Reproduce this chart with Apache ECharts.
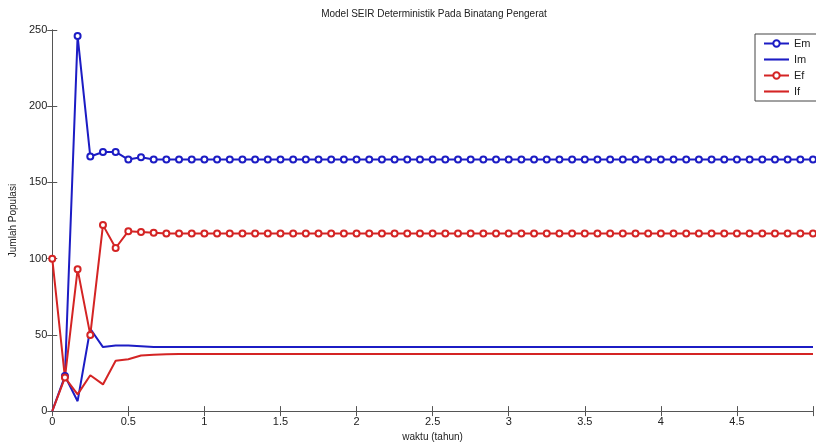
<!DOCTYPE html>
<html>
<head>
<meta charset="utf-8">
<script src="https://cdn.jsdelivr.net/npm/echarts@6/dist/echarts.min.js"></script>
<style>
  html, body { margin: 0; padding: 0; background: #fff; }
  #chart { width: 816px; height: 447px; }
</style>
</head>
<body>
<div id="chart"></div>
<script>
// waktu dalam bulan (0..60), ditampilkan dalam tahun
const months = [
  0, 1, 2, 3, 4, 5, 6, 7, 8, 9, 10, 11, 12, 13, 14, 15, 16, 17, 18, 19, 20,
  21, 22, 23, 24, 25, 26, 27, 28, 29, 30, 31, 32, 33, 34, 35, 36, 37, 38, 39, 40,
  41, 42, 43, 44, 45, 46, 47, 48, 49, 50, 51, 52, 53, 54, 55, 56, 57, 58, 59, 60
];
const Em = [
  null, 23, 246, 167, 170, 170, 165, 166.5, 165, 165, 165, 165, 165, 165, 165, 165, 165, 165, 165, 165, 165,
  165, 165, 165, 165, 165, 165, 165, 165, 165, 165, 165, 165, 165, 165, 165, 165, 165, 165, 165, 165,
  165, 165, 165, 165, 165, 165, 165, 165, 165, 165, 165, 165, 165, 165, 165, 165, 165, 165, 165, 165
];
const Im = [
  0, 23, 6.5, 54, 42, 43, 43, 42.5, 42, 42, 42, 42, 42, 42, 42, 42, 42, 42, 42, 42, 42,
  42, 42, 42, 42, 42, 42, 42, 42, 42, 42, 42, 42, 42, 42, 42, 42, 42, 42, 42, 42,
  42, 42, 42, 42, 42, 42, 42, 42, 42, 42, 42, 42, 42, 42, 42, 42, 42, 42, 42, 42
];
const Ef = [
  100, 22, 93, 50, 122, 107, 118, 117.5, 117, 116.5, 116.5, 116.5, 116.5, 116.5, 116.5, 116.5, 116.5, 116.5, 116.5, 116.5, 116.5,
  116.5, 116.5, 116.5, 116.5, 116.5, 116.5, 116.5, 116.5, 116.5, 116.5, 116.5, 116.5, 116.5, 116.5, 116.5, 116.5, 116.5, 116.5, 116.5, 116.5,
  116.5, 116.5, 116.5, 116.5, 116.5, 116.5, 116.5, 116.5, 116.5, 116.5, 116.5, 116.5, 116.5, 116.5, 116.5, 116.5, 116.5, 116.5, 116.5, 116.5
];
const If = [
  0, 22, 11, 23.5, 17.5, 33, 34, 36.5, 37, 37.3, 37.5, 37.5, 37.5, 37.5, 37.5, 37.5, 37.5, 37.5, 37.5, 37.5, 37.5,
  37.5, 37.5, 37.5, 37.5, 37.5, 37.5, 37.5, 37.5, 37.5, 37.5, 37.5, 37.5, 37.5, 37.5, 37.5, 37.5, 37.5, 37.5, 37.5, 37.5,
  37.5, 37.5, 37.5, 37.5, 37.5, 37.5, 37.5, 37.5, 37.5, 37.5, 37.5, 37.5, 37.5, 37.5, 37.5, 37.5, 37.5, 37.5, 37.5, 37.5
];
const xTicks = [0, 0.5, 1, 1.5, 2, 2.5, 3, 3.5, 4, 4.5];

const blue = "#1c1cc4";
const red = "#d42424";
const axisColor = "#555";
const lineIcon = "path://M0,0 H24 V2 H0 Z";

function pairs(vals) {
  return vals.map((v, i) => [months[i] / 12, v]);
}

let chart = echarts.init(document.getElementById("chart"));

let axisBase = {
  axisLine: { show: true, lineStyle: { color: axisColor, width: 1 } },
  axisTick: { show: true, inside: true, length: 5, lineStyle: { color: axisColor } },
  splitLine: { show: false }
};

let option = {
  animation: false,
  backgroundColor: "#fff",
  textStyle: { fontFamily: "Liberation Sans" },
  title: {
    text: "Model SEIR Deterministik Pada Binatang Pengerat",
    left: 429,
    textAlign: "center",
    top: 4,
    textStyle: { fontSize: 10, fontWeight: "normal", color: "#222", fontFamily: "Liberation Sans" }
  },
  legend: {
    orient: "vertical",
    left: 755,
    top: 34,
    itemWidth: 25,
    itemHeight: 8,
    itemGap: 5,
    padding: [4, 20, 4, 8],
    borderColor: "#444",
    borderWidth: 1,
    backgroundColor: "#fff",
    textStyle: { fontSize: 11, color: "#222" },
    data: [
      { name: "Em" },
      { name: "Im", icon: lineIcon },
      { name: "Ef" },
      { name: "If", icon: lineIcon }
    ]
  },
  grid: { left: 50, right: -6, top: 30, bottom: 34 },
  xAxis: [
    Object.assign({}, axisBase, {
      type: "value",
      min: 0,
      max: 5,
      interval: 0.5,
      name: "waktu (tahun)",
      nameLocation: "middle",
      nameGap: 16,
      nameTextStyle: { fontSize: 10, color: "#222" },
      axisLabel: {
        fontSize: 11, color: "#222", margin: 5,
        formatter: v => (xTicks.indexOf(v) >= 0 ? String(v) : "")
      }
    }),
    Object.assign({}, axisBase, {
      type: "value",
      position: "top",
      min: 0,
      max: 5,
      interval: 0.5,
      axisLabel: { show: false }
    })
  ],
  yAxis: [
    Object.assign({}, axisBase, {
      type: "value",
      min: 0,
      max: 250,
      interval: 50,
      name: "Jumlah Populasi",
      nameLocation: "middle",
      nameGap: 28,
      nameTextStyle: { fontSize: 10, color: "#222" },
      axisLabel: { fontSize: 11, color: "#222", margin: 5 }
    }),
    Object.assign({}, axisBase, {
      type: "value",
      position: "right",
      min: 0,
      max: 250,
      interval: 50,
      axisLabel: { show: false }
    })
  ],
  series: [
    {
      name: "Em",
      type: "line",
      data: pairs(Em),
      symbol: "emptyCircle",
      symbolSize: 6,
      showAllSymbol: true,
      color: blue,
      lineStyle: { width: 2, color: blue },
      itemStyle: { color: blue, borderWidth: 1.6 }
    },
    {
      name: "Im",
      type: "line",
      data: pairs(Im),
      symbol: "none",
      color: blue,
      lineStyle: { width: 2, color: blue }
    },
    {
      name: "Ef",
      type: "line",
      data: pairs(Ef),
      symbol: "emptyCircle",
      symbolSize: 6,
      showAllSymbol: true,
      color: red,
      lineStyle: { width: 2, color: red },
      itemStyle: { color: red, borderWidth: 1.6 }
    },
    {
      name: "If",
      type: "line",
      data: pairs(If),
      symbol: "none",
      color: red,
      lineStyle: { width: 2, color: red }
    }
  ]
};

chart.setOption(option);
</script>
</body>
</html>
